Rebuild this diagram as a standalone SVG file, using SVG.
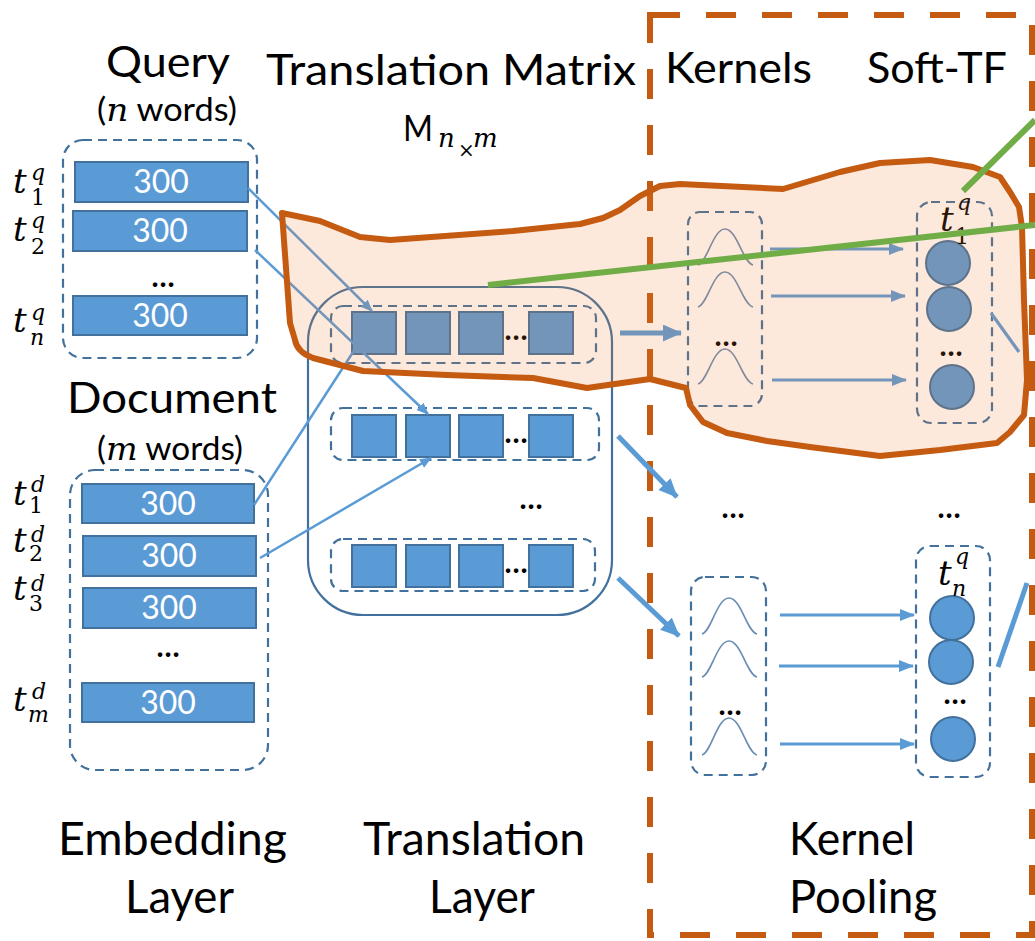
<svg xmlns="http://www.w3.org/2000/svg" width="1035" height="941" viewBox="0 0 1035 941">
  <defs>
    <style>
      .h { font-family: Lato, "Open Sans", sans-serif; font-size: 42px; fill: #000; }
      .hb { font-family: Lato, "Open Sans", sans-serif; font-size: 46px; fill: #000; }
      .w { font-family: Lato, "Open Sans", sans-serif; font-size: 32px; fill: #000; }
      .num { font-family: Lato, "Open Sans", sans-serif; font-size: 32px; fill: #fff; text-anchor: middle; }
      .mi { font-family: "DejaVu Serif", "Liberation Serif", serif; font-style: italic; }
      .t { font-family: "DejaVu Serif", "Liberation Serif", serif; font-style: italic; font-size: 34px; fill: #000; }
      .ts { font-family: "DejaVu Serif", "Liberation Serif", serif; font-style: italic; font-size: 22px; fill: #000; }
      .tn { font-family: "DejaVu Serif", "Liberation Serif", serif; font-style: normal; font-size: 22px; fill: #000; }
      .dots { font-family: Lato, "Open Sans", sans-serif; font-size: 30px; font-weight: bold; fill: #000; text-anchor: middle; }
      .bar { fill: #5B9BD5; stroke: #41719C; stroke-width: 2; }
      .cell { fill: #5B9BD5; stroke: #41719C; stroke-width: 2; }
      .ball { fill: #5B9BD5; stroke: #41719C; stroke-width: 2; }
      .dbox { fill: none; stroke: #41719C; stroke-width: 2.2; stroke-dasharray: 9 6; }
      .frame { fill: none; stroke: #41719C; stroke-width: 2.2; }
      .gauss { fill: none; stroke: #6A8DB3; stroke-width: 1.6; }
      .thin { stroke: #5B9BD5; stroke-width: 2.5; fill: none; }
      .mid { stroke: #5B9BD5; stroke-width: 3.2; fill: none; }
      .thick { stroke: #5B9BD5; stroke-width: 5; fill: none; }
      .green { stroke: #70AD47; stroke-width: 6; fill: none; }
    </style>
    <marker id="headS" markerUnits="userSpaceOnUse" markerWidth="12" markerHeight="10" refX="11" refY="5" orient="auto">
      <path d="M0,0 L12,5 L0,10 z" fill="#5B9BD5"/>
    </marker>
    <marker id="headM" markerUnits="userSpaceOnUse" markerWidth="15" markerHeight="12" refX="14" refY="6" orient="auto">
      <path d="M0,0 L15,6 L0,12 z" fill="#5B9BD5"/>
    </marker>
    <marker id="headL" markerUnits="userSpaceOnUse" markerWidth="19" markerHeight="17" refX="18" refY="8.5" orient="auto">
      <path d="M0,0 L19,8.5 L0,17 z" fill="#5B9BD5"/>
    </marker>
  </defs>

  <rect width="1035" height="941" fill="#fff"/>

  <!-- column headings -->
  <g id="headings">
    <text class="h" x="106" y="77" textLength="124" lengthAdjust="spacingAndGlyphs">Query</text>
    <text class="w" x="97" y="121" textLength="140" lengthAdjust="spacingAndGlyphs">(<tspan class="mi">n</tspan> words)</text>
    <text class="h" x="266" y="85" textLength="370" lengthAdjust="spacingAndGlyphs">Translation Matrix</text>
    <text class="h" x="403" y="141" style="font-size:37px" textLength="30" lengthAdjust="spacingAndGlyphs">M</text>
    <text class="ts" x="438" y="147" style="font-size:26px">n</text>
    <text class="tn" x="458" y="157" style="font-size:20px">×</text>
    <text class="ts" x="473" y="147" style="font-size:26px">m</text>
    <text class="h" x="665" y="83" textLength="147" lengthAdjust="spacingAndGlyphs">Kernels</text>
    <text class="h" x="867" y="83" textLength="140" lengthAdjust="spacingAndGlyphs">Soft-TF</text>
    <text class="h" x="67" y="413" textLength="210" lengthAdjust="spacingAndGlyphs">Document</text>
    <text class="w" x="97" y="460" textLength="146" lengthAdjust="spacingAndGlyphs">(<tspan class="mi">m</tspan> words)</text>
    <text class="hb" x="58" y="855" textLength="229" lengthAdjust="spacingAndGlyphs">Embedding</text>
    <text class="hb" x="125" y="913" textLength="109" lengthAdjust="spacingAndGlyphs">Layer</text>
    <text class="hb" x="363" y="855" textLength="222" lengthAdjust="spacingAndGlyphs">Translation</text>
    <text class="hb" x="429" y="913" textLength="106" lengthAdjust="spacingAndGlyphs">Layer</text>
    <text class="hb" x="789" y="855" textLength="126" lengthAdjust="spacingAndGlyphs">Kernel</text>
    <text class="hb" x="789" y="913" textLength="148" lengthAdjust="spacingAndGlyphs">Pooling</text>
  </g>

  <!-- kernel pooling frame -->
  <g id="kernel-pooling-frame">
    <rect x="650" y="15" width="382" height="920" fill="none" stroke="#C55A11" stroke-width="6" stroke-dasharray="30 26"/>
  </g>

  <!-- query embeddings -->
  <g id="query-embedding">
    <rect class="dbox" x="63" y="140" width="194" height="218" rx="20"/>
    <rect class="bar" x="75" y="162" width="173" height="40"/>
    <text class="num" x="161" y="193">300</text>
    <rect class="bar" x="73" y="211" width="174" height="40"/>
    <text class="num" x="160" y="242">300</text>
    <text class="dots" x="163" y="287">…</text>
    <rect class="bar" x="73" y="296" width="174" height="39"/>
    <text class="num" x="160" y="327">300</text>
    <text class="t" x="13" y="193">t</text><text class="ts" x="31" y="180">q</text><text class="tn" x="31" y="205">1</text>
    <text class="t" x="13" y="241">t</text><text class="ts" x="31" y="228">q</text><text class="tn" x="31" y="254">2</text>
    <text class="t" x="13" y="332">t</text><text class="ts" x="31" y="320">q</text><text class="ts" x="30" y="345">n</text>
  </g>

  <!-- document embeddings -->
  <g id="document-embedding">
    <rect class="dbox" x="70" y="470" width="198" height="300" rx="25"/>
    <rect class="bar" x="82" y="484" width="172" height="39"/>
    <text class="num" x="168" y="515">300</text>
    <rect class="bar" x="83" y="536" width="173" height="40"/>
    <text class="num" x="169" y="567">300</text>
    <rect class="bar" x="83" y="588" width="173" height="40"/>
    <text class="num" x="169" y="619">300</text>
    <text class="dots" x="168" y="657">…</text>
    <rect class="bar" x="82" y="683" width="172" height="39"/>
    <text class="num" x="168" y="714">300</text>
    <text class="t" x="13" y="505">t</text><text class="ts" x="31" y="492">d</text><text class="tn" x="29" y="513">1</text>
    <text class="t" x="13" y="552">t</text><text class="ts" x="31" y="542">d</text><text class="tn" x="29" y="561">2</text>
    <text class="t" x="13" y="600">t</text><text class="ts" x="31" y="591">d</text><text class="tn" x="29" y="611">3</text>
    <text class="t" x="13" y="711">t</text><text class="ts" x="32" y="699">d</text><text class="ts" x="28" y="722">m</text>
  </g>

  <!-- translation layer: n x m matrix rows -->
  <g id="translation-layer">
    <rect class="frame" x="308" y="287" width="304" height="328" rx="55"/>
    <rect class="dbox" x="331" y="306" width="265" height="57" rx="12"/>
    <rect class="cell" x="352" y="312" width="44" height="42"/>
    <rect class="cell" x="406" y="312" width="44" height="42"/>
    <rect class="cell" x="459" y="312" width="44" height="42"/>
    <text class="dots" x="516" y="340">…</text>
    <rect class="cell" x="529" y="312" width="44" height="42"/>
    <rect class="dbox" x="331" y="408" width="268" height="52" rx="12"/>
    <rect class="cell" x="352" y="415" width="44" height="42"/>
    <rect class="cell" x="406" y="415" width="44" height="42"/>
    <rect class="cell" x="459" y="415" width="44" height="42"/>
    <text class="dots" x="516" y="443">…</text>
    <rect class="cell" x="529" y="415" width="44" height="42"/>
    <text class="dots" x="531" y="509">…</text>
    <rect class="dbox" x="331" y="539" width="264" height="52" rx="12"/>
    <rect class="cell" x="352" y="545" width="44" height="42"/>
    <rect class="cell" x="406" y="545" width="44" height="42"/>
    <rect class="cell" x="459" y="545" width="44" height="42"/>
    <text class="dots" x="516" y="573">…</text>
    <rect class="cell" x="529" y="545" width="44" height="42"/>
  </g>

  <!-- kernels for the first query term -->
  <g id="kernels-1">
    <rect class="dbox" x="688" y="212" width="74" height="194" rx="12"/>
    <path class="gauss" d="M698,265 C707,263 713,229 725,229 C737,229 743,263 753,265"/>
    <path class="gauss" d="M698,307 C707,305 713,272 725,272 C737,272 743,305 753,307"/>
    <text class="dots" x="726" y="346">…</text>
    <path class="gauss" d="M698,384 C707,382 713,349 725,349 C737,349 743,382 753,384"/>
  </g>

  <!-- soft-TF features for the first query term -->
  <g id="soft-tf-1">
    <rect class="dbox" x="917" y="202" width="75" height="221" rx="14"/>
    <circle class="ball" cx="948" cy="263" r="22"/>
    <circle class="ball" cx="949" cy="309" r="22"/>
    <text class="dots" x="951" y="356">…</text>
    <circle class="ball" cx="952" cy="387" r="22"/>
    <text class="t" x="940" y="231">t</text><text class="ts" x="957" y="210">q</text><text class="tn" x="955" y="244">1</text>
  </g>

  <g id="gap-dots">
    <text class="dots" x="733" y="518">…</text>
    <text class="dots" x="949" y="518">…</text>
  </g>

  <!-- kernels for the last query term -->
  <g id="kernels-n">
    <rect class="dbox" x="691" y="577" width="75" height="198" rx="14"/>
    <path class="gauss" d="M702,634 C711,632 717,598 729,598 C741,598 747,632 757,634"/>
    <path class="gauss" d="M702,677 C711,675 717,641 729,641 C741,641 747,675 757,677"/>
    <text class="dots" x="730" y="715">…</text>
    <path class="gauss" d="M702,755 C711,753 717,718 729,718 C741,718 747,753 757,755"/>
  </g>

  <!-- soft-TF features for the last query term -->
  <g id="soft-tf-n">
    <rect class="dbox" x="916" y="546" width="74" height="231" rx="14"/>
    <circle class="ball" cx="952" cy="618" r="22"/>
    <circle class="ball" cx="951" cy="662" r="22"/>
    <text class="dots" x="955" y="704">…</text>
    <circle class="ball" cx="953" cy="739" r="22"/>
    <text class="t" x="938" y="585">t</text><text class="ts" x="955" y="564">q</text><text class="ts" x="952" y="596">n</text>
  </g>

  <!-- connectors -->
  <g id="connectors">
    <line class="thin" x1="248" y1="188" x2="372" y2="311" marker-end="url(#headS)"/>
    <line class="thin" x1="255" y1="250" x2="428" y2="414" marker-end="url(#headS)"/>
    <line class="thin" x1="254" y1="505" x2="357" y2="346"/>
    <line class="thin" x1="260" y1="558" x2="431" y2="458" marker-end="url(#headS)"/>
    <line class="thick" x1="620" y1="333" x2="681" y2="333" marker-end="url(#headL)"/>
    <line class="thick" x1="618" y1="436" x2="677" y2="497" marker-end="url(#headL)"/>
    <line class="thick" x1="618" y1="578" x2="679" y2="636" marker-end="url(#headL)"/>
    <line class="mid" x1="770" y1="249" x2="903" y2="249" marker-end="url(#headM)"/>
    <line class="mid" x1="771" y1="296" x2="905" y2="296" marker-end="url(#headM)"/>
    <line class="mid" x1="772" y1="380" x2="906" y2="380" marker-end="url(#headM)"/>
    <line class="mid" x1="780" y1="615" x2="914" y2="615" marker-end="url(#headM)"/>
    <line class="mid" x1="779" y1="666" x2="913" y2="666" marker-end="url(#headM)"/>
    <line class="mid" x1="780" y1="744" x2="914" y2="744" marker-end="url(#headM)"/>
    <line class="mid" x1="991" y1="313" x2="1019" y2="352"/>
    <line class="thick" x1="998" y1="667" x2="1027" y2="583"/>
  </g>

  <!-- highlighted path for the first query term -->
  <g id="highlight">
    <path d="M282,213 L320,221 L360,237 L390,240 L513,231 L580,224 L603,218 L620,210 L640,196 L660,186 L680,184 L783,189 L840,172 L880,163 L930,160 L973,167 L1000,177 L1010,192 L1019,207 L1022,227 L1024,300 L1027,380 L1024,415 L1010,432 L997,443 L940,450 L880,456 L810,447 L767,441 L727,433 L703,422 L690,405 L686,388 L650,379 L587,388 L533,378 L447,375 L363,371 L313,358 Q297,352 295,340 L290,323 Z" fill="#ED7D31" fill-opacity="0.17" stroke="#C55A11" stroke-width="6" stroke-linejoin="round"/>
    <line class="green" x1="488" y1="285" x2="1035" y2="225"/>
    <line class="green" x1="963" y1="191" x2="1035" y2="120"/>
  </g>
</svg>
